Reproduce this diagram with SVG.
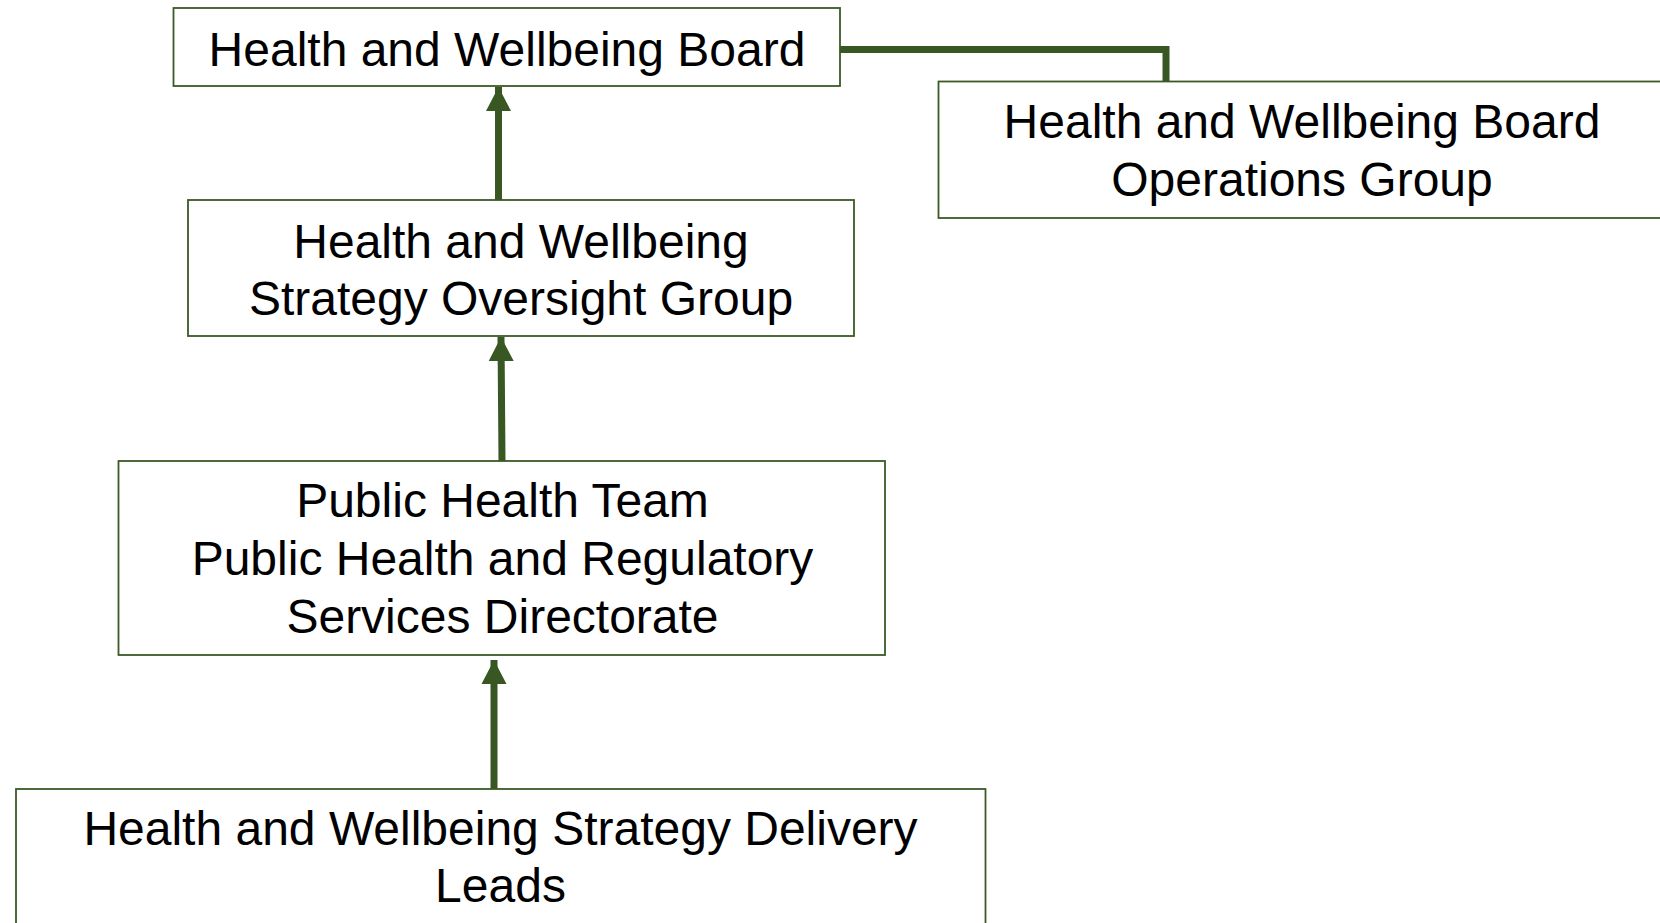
<svg xmlns="http://www.w3.org/2000/svg" width="1660" height="923" viewBox="0 0 1660 923">
<style>
.box{fill:#ffffff;stroke:#3b5a25;stroke-width:1.8}
.lbl{font-family:"Liberation Sans",Arial,sans-serif;font-size:48px;fill:#000;text-anchor:middle}
.con{fill:none;stroke:#385723;stroke-width:7}
</style>
<defs>
<marker id="ah" markerUnits="userSpaceOnUse" markerWidth="26" markerHeight="26" viewBox="0 0 26 26" refX="24" refY="13" orient="auto">
<path d="M0,0.5 L24,13 L0,25.5 Z" fill="#385723"/>
</marker>
</defs>
<rect width="1660" height="923" fill="#ffffff"/>
<g id="connectors">
<path class="con" d="M840,49.5 H1166 V82"/>
<line class="con" x1="498.5" y1="200" x2="498.5" y2="87" marker-end="url(#ah)"/>
<line class="con" x1="502" y1="461" x2="501" y2="337" marker-end="url(#ah)"/>
<line class="con" x1="494" y1="789" x2="494" y2="660" marker-end="url(#ah)"/>
</g>
<g id="n1">
<rect class="box" x="173.5" y="8" width="666.5" height="78"/>
<text class="lbl" x="507" y="66">Health and Wellbeing Board</text>
</g>
<g id="n2">
<rect class="box" x="938.5" y="81.5" width="730" height="136.5"/>
<text class="lbl" x="1302" y="138">Health and Wellbeing Board</text>
<text class="lbl" x="1302" y="195.5">Operations Group</text>
</g>
<g id="n3">
<rect class="box" x="188" y="200" width="666" height="136"/>
<text class="lbl" x="521" y="258">Health and Wellbeing</text>
<text class="lbl" x="521" y="315">Strategy Oversight Group</text>
</g>
<g id="n4">
<rect class="box" x="118.5" y="461" width="766.5" height="194"/>
<text class="lbl" x="502.5" y="517">Public Health Team</text>
<text class="lbl" x="502.5" y="575">Public Health and Regulatory</text>
<text class="lbl" x="502.5" y="632.5">Services Directorate</text>
</g>
<g id="n5">
<rect class="box" x="16" y="789" width="969.5" height="150"/>
<text class="lbl" x="500.5" y="845">Health and Wellbeing Strategy Delivery</text>
<text class="lbl" x="500.5" y="902">Leads</text>
</g>
</svg>
